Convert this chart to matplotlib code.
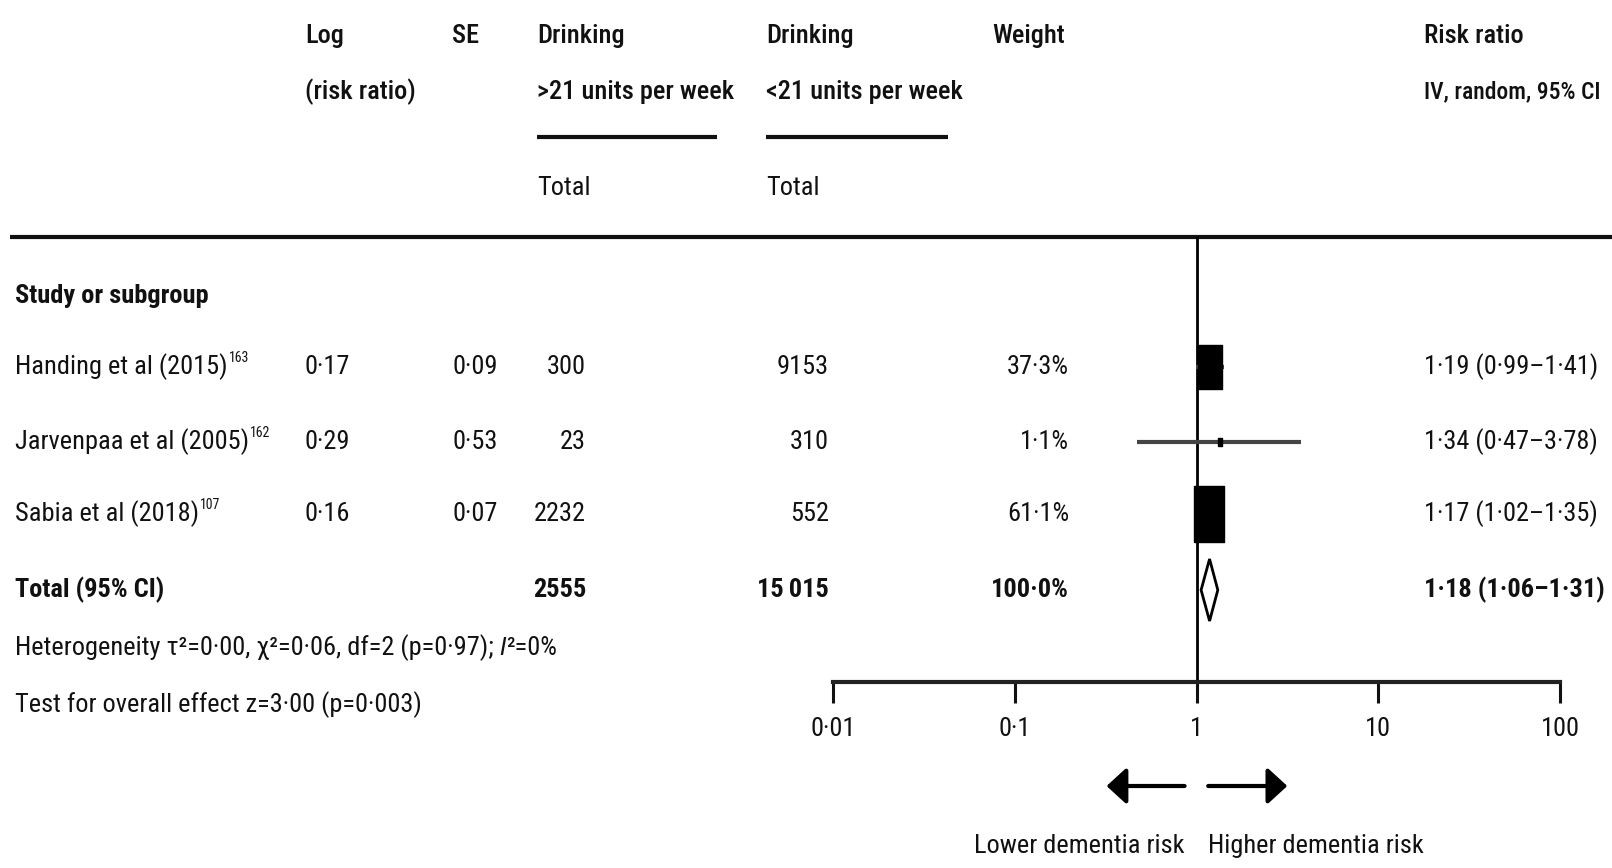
import matplotlib.pyplot as plt
import matplotlib.transforms as mtransforms
from matplotlib.patches import Polygon
from matplotlib.path import Path
from matplotlib.ticker import NullLocator

plt.rcParams['font.family'] = ['Roboto Condensed', 'DejaVu Sans']

# study data
studies = ['Handing et al (2015)', 'Jarvenpaa et al (2005)', 'Sabia et al (2018)']
refs = ['163', '162', '107']
log_rr = [0.17, 0.29, 0.16]
se = [0.09, 0.53, 0.07]
n_high = [300, 23, 2232]
n_low = [9153, 310, 552]
weight = [37.3, 1.1, 61.1]
rr = [1.19, 1.34, 1.17]
ci_low = [0.99, 0.47, 1.02]
ci_high = [1.41, 3.78, 1.35]

total_rr, total_low, total_high = 1.18, 1.06, 1.31
total_n_high = 2555
total_n_low = 15015
total_weight = 100.0

ticks = [0.01, 0.1, 1, 10, 100]
tick_labels = ['0·01', '0·1', '1', '10', '100']


def dot(v, d=2):
    return f'{v:.{d}f}'.replace('.', '·')


def thou(n):
    # thin-space grouping only from five digits up
    return f'{n:,}'.replace(',', '\u2009') if n >= 10000 else str(n)


W, H = 1612, 868
fs = 19
ink = '#111111'

fig = plt.figure(figsize=(W / 100, H / 100), dpi=100)
bg = fig.add_axes([0, 0, 1, 1])
bg.set_xlim(0, W)
bg.set_ylim(H, 0)
bg.axis('off')

# forest panel, y in the same pixel rows as the table
x0, x1, top, bottom = 833, 1560, 237, 682
fa = fig.add_axes([x0 / W, 1 - bottom / H, (x1 - x0) / W, (bottom - top) / H])
fa.set_xscale('log')
fa.set_xlim(0.01, 100)
fa.set_ylim(bottom, top)
fa.patch.set_visible(False)
for s in ['top', 'left', 'right']:
    fa.spines[s].set_visible(False)
fa.spines['bottom'].set_linewidth(3)
fa.spines['bottom'].set_color('#222222')
fa.set_yticks([])
fa.set_xticks(ticks)
fa.set_xticklabels(tick_labels)
fa.xaxis.set_minor_locator(NullLocator())
fa.tick_params(axis='x', length=15, width=2.2, pad=10, labelsize=fs, colors=ink)

row_y = [367, 442, 514]
total_y = 590

fa.axvline(1, color='black', lw=2, zorder=1)
fa.hlines(row_y, ci_low, ci_high, color='#444444', lw=3, zorder=2)

box = Path([(-0.27, -0.5), (0.27, -0.5), (0.27, 0.5), (-0.27, 0.5), (-0.27, -0.5)])
fa.scatter(rr, row_y, s=[w * 27.5 for w in weight], marker=box, color='black', zorder=3)

diamond = Polygon([(total_low, total_y), (total_rr, total_y - 31),
                   (total_high, total_y), (total_rr, total_y + 31)],
                  closed=True, facecolor='white', edgecolor='black', lw=2, zorder=3)
fa.add_patch(diamond)


def txt(x, y, s, ha='left', weight='normal', size=fs):
    return bg.text(x, y, s, ha=ha, va='center', fontsize=size, color=ink, fontweight=weight)


# header
hw = 'medium'
txt(305, 36, 'Log', weight=hw)
txt(305, 92, '(risk ratio)', weight=hw)
txt(452, 36, 'SE', weight=hw)
txt(537, 36, 'Drinking', weight=hw)
txt(537, 92, '>21 units per week', weight=hw)
txt(537, 188, 'Total')
txt(766, 36, 'Drinking', weight=hw)
txt(766, 92, '<21 units per week', weight=hw)
txt(766, 188, 'Total')
txt(992, 36, 'Weight', weight=hw)
txt(1424, 36, 'Risk ratio', weight=hw)
txt(1424, 92, 'IV, random, 95% CI', weight=hw, size=17)
bg.hlines([137, 137], [537, 766], [717, 948], color='#111111', lw=3)
bg.hlines(237, 10, W, color='#111111', lw=3)

# study rows
txt(15, 296, 'Study or subgroup', weight='bold')
names = []
for i, y in enumerate(row_y):
    names.append(txt(15, y, studies[i]))
    txt(305, y, dot(log_rr[i]))
    txt(452, y, dot(se[i]))
    txt(586, y, thou(n_high[i]), ha='right')
    txt(829, y, thou(n_low[i]), ha='right')
    txt(1069, y, dot(weight[i], 1) + '%', ha='right')
    txt(1424, y, f'{dot(rr[i])} ({dot(ci_low[i])}–{dot(ci_high[i])})')

txt(15, total_y, 'Total (95% CI)', weight='bold')
txt(586, total_y, thou(total_n_high), ha='right', weight='bold')
txt(829, total_y, thou(total_n_low), ha='right', weight='bold')
txt(1069, total_y, dot(total_weight, 1) + '%', ha='right', weight='bold')
txt(1424, total_y, f'{dot(total_rr)} ({dot(total_low)}–{dot(total_high)})', weight='bold')

het = txt(15, 648, 'Heterogeneity τ²=0·00, χ²=0·06, df=2 (p=0·97); ')
txt(15, 705, 'Test for overall effect z=3·00 (p=0·003)')

# superscript references and italic I² placed after measured text
fig.canvas.draw()
r = fig.canvas.get_renderer()
inv = bg.transData.inverted()
for t, ref, y in zip(names, refs, row_y):
    bb = t.get_window_extent(renderer=r)
    xe = inv.transform((bb.x1, 0))[0]
    bg.text(xe + 1, y - 9, ref, ha='left', va='center', fontsize=10, color=ink)
bb = het.get_window_extent(renderer=r)
xe = inv.transform((bb.x1, 0))[0]
it = bg.text(xe, 648, 'I', ha='left', va='center', fontsize=fs, color=ink, style='italic')
fig.canvas.draw()
bb = it.get_window_extent(renderer=r)
xe = inv.transform((bb.x1, 0))[0]
bg.text(xe, 648, '²=0%', ha='left', va='center', fontsize=fs, color=ink)

# direction arrows under the axis
trans = mtransforms.blended_transform_factory(fa.transData, bg.transData)
arrow = dict(arrowstyle='-|>,head_length=0.6,head_width=0.55', lw=3, color='black',
             shrinkA=0, shrinkB=0, mutation_scale=20)
bg.annotate('', xy=(0.32, 786), xytext=(0.86, 786), xycoords=trans, textcoords=trans,
            arrowprops=arrow)
bg.annotate('', xy=(3.16, 786), xytext=(1.16, 786), xycoords=trans, textcoords=trans,
            arrowprops=arrow)
bg.text(0.86, 846, 'Lower dementia risk', transform=trans, ha='right', va='center',
        fontsize=fs, color=ink)
bg.text(1.16, 846, 'Higher dementia risk', transform=trans, ha='left', va='center',
        fontsize=fs, color=ink)

fig.savefig('out.png', dpi=100)
